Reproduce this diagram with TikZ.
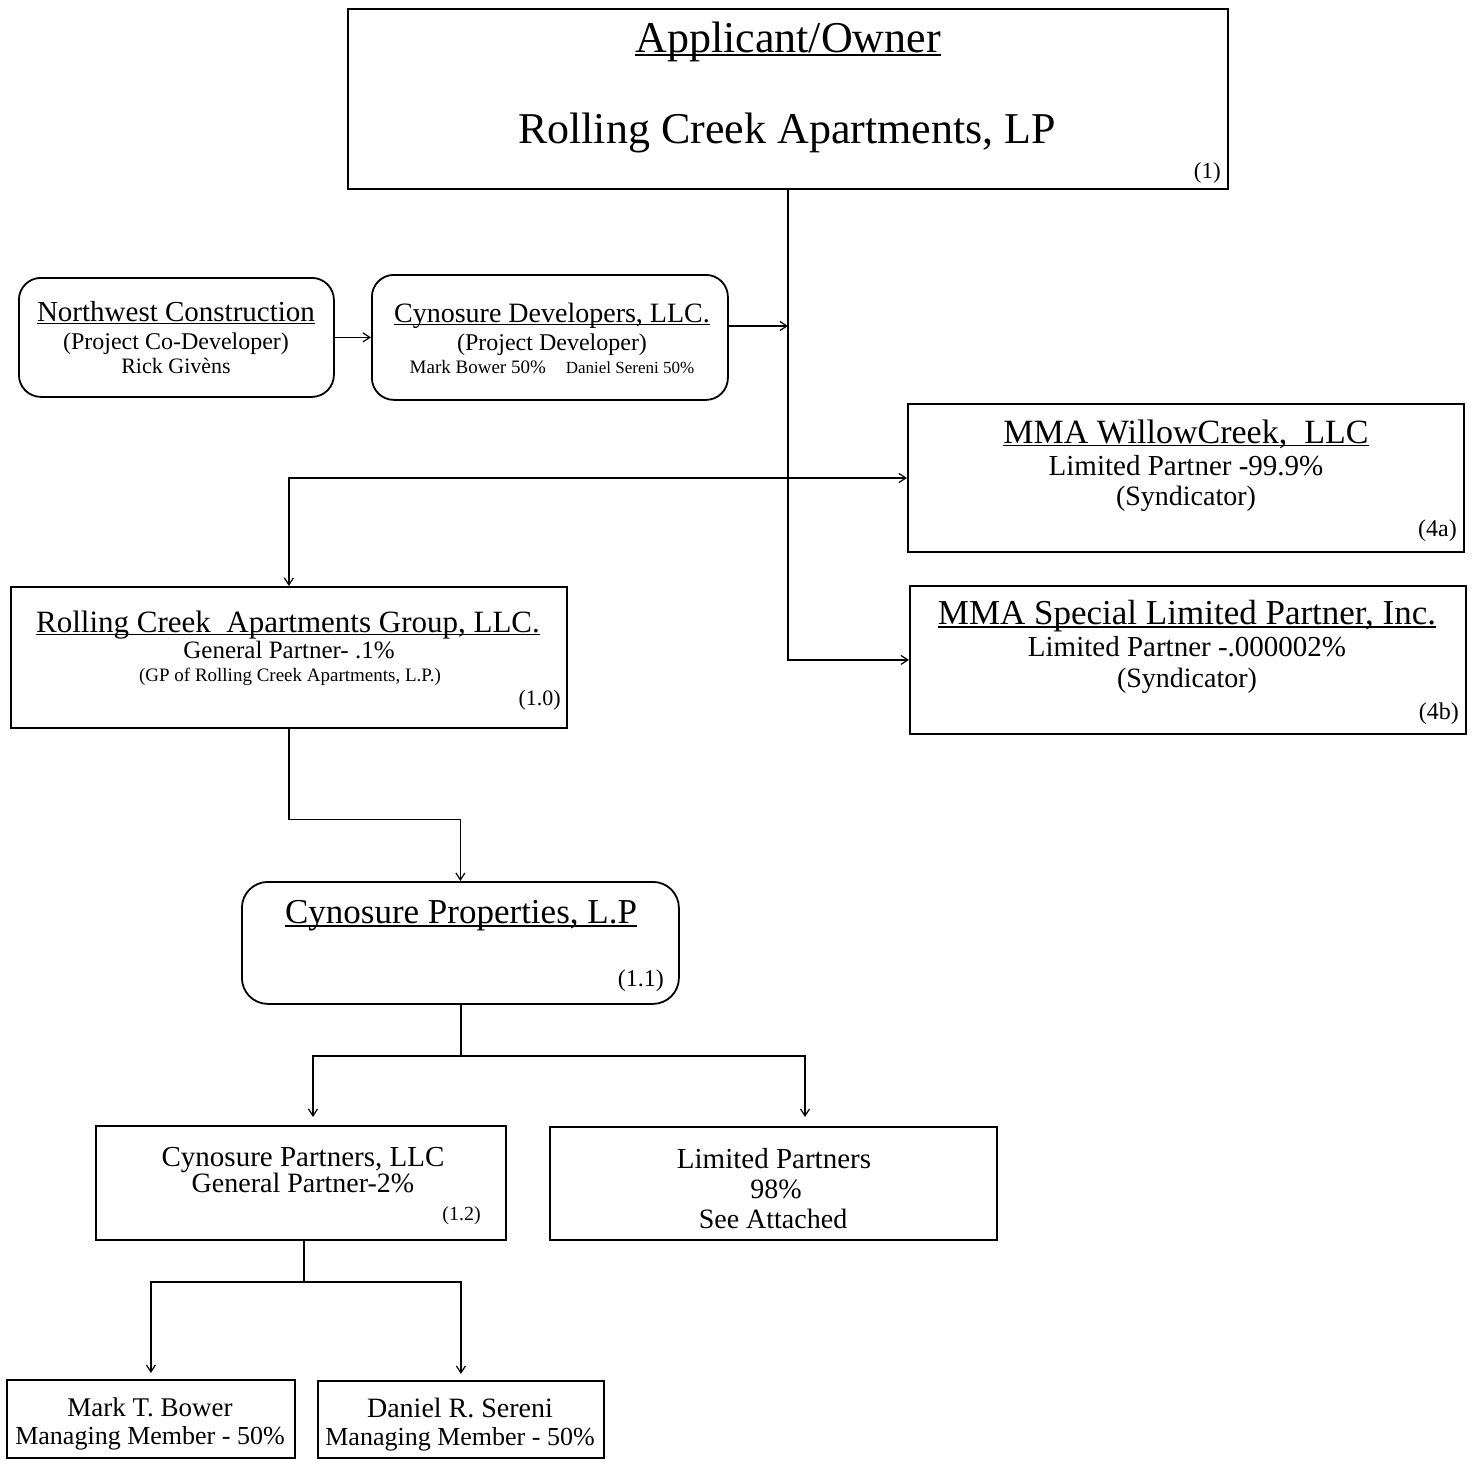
\documentclass[tikz,border=0pt]{standalone}
\usepackage{fontspec}
\setmainfont{Liberation Serif}
\usetikzlibrary{arrows.meta}
\newcommand{\fs}[1]{\fontsize{#1}{#1}\selectfont}
\newcommand{\ul}[1]{\leavevmode\setbox0\hbox{#1}\rlap{\rule[-0.1em]{\wd0}{0.045em}}\box0}
\begin{document}
\begin{tikzpicture}[x=1pt,y=-1pt,
  box/.style={draw, line width=1.8pt, anchor=north west, inner sep=0pt},
  rbox/.style={box, rounded corners=22pt},
  txt/.style={anchor=base, inner sep=0pt},
  tag/.style={anchor=base east, inner sep=0pt},
  conn/.style={line width=1.3pt},
  arr/.style={conn, -{Straight Barb[length=7pt,width=9pt,line width=1.2pt]}}
]
\useasboundingbox (0,0) rectangle (1472,1459);

% boxes
\node[box, minimum width=880pt, minimum height=180pt] (top) at (347,8) {};
\node[rbox, minimum width=315pt, minimum height=119pt] (nw) at (18,277) {};
\node[rbox, minimum width=356pt, minimum height=125pt] (cdev) at (371,274) {};
\node[box, minimum width=556pt, minimum height=148pt] (mwc) at (907,403) {};
\node[box, minimum width=556pt, minimum height=148pt] (msp) at (909,585) {};
\node[box, minimum width=556pt, minimum height=141pt] (rcg) at (10,586) {};
\node[rbox, rounded corners=26pt, minimum width=437pt, minimum height=122pt] (cprop) at (241,881) {};
\node[box, minimum width=410pt, minimum height=114pt] (cpart) at (95,1125) {};
\node[box, minimum width=447pt, minimum height=113pt] (lp) at (549,1126) {};
\node[box, minimum width=288pt, minimum height=78pt] (mark) at (6,1379) {};
\node[box, minimum width=286pt, minimum height=77pt] (dan) at (317,1380) {};

% texts
\node[txt] (t1) at (788,52) {\fs{44}\ul{Applicant/Owner}};
\node[txt] (t2) at (787,143) {\fs{44}Rolling Creek Apartments, LP};
\node[tag] (t3) at (1221,178) {\fs{23}(1)};

\node[txt] (nw1) at (176,321) {\fs{29}\ul{Northwest Construction}};
\node[txt] (nw2) at (176,349) {\fs{24}(Project Co-Developer)};
\node[txt] (nw3) at (176,373) {\fs{22}Rick Givèns};

\node[txt] (cd1) at (552,322) {\fs{28}\ul{Cynosure Developers, LLC.}};
\node[txt] (cd2) at (552,350) {\fs{24}(Project Developer)};
\node[txt] (cd3) at (552,373) {\fs{19}Mark Bower 50\%\hspace{20pt}{\fs{17}Daniel Sereni 50\%}};

\node[txt] (m1) at (1186,443) {\fs{34}\ul{MMA WillowCreek,\ \ LLC}};
\node[txt] (m2) at (1186,475) {\fs{29}Limited Partner -99.9\%};
\node[txt] (m3) at (1186,505) {\fs{28}(Syndicator)};
\node[tag] (m4) at (1457,536) {\fs{24}(4a)};

\node[txt] (s1) at (1187,624) {\fs{35}\ul{MMA Special Limited Partner, Inc.}};
\node[txt] (s2) at (1187,656) {\fs{29}Limited Partner -.000002\%};
\node[txt] (s3) at (1187,687) {\fs{28}(Syndicator)};
\node[tag] (s4) at (1459,719) {\fs{24}(4b)};

\node[txt] (g1) at (288,632) {\fs{31}\ul{Rolling Creek\ \ Apartments Group, LLC.}};
\node[txt] (g2) at (289,658) {\fs{25}General Partner- .1\%};
\node[txt] (g3) at (290,681) {\fs{19}(GP of Rolling Creek Apartments, L.P.)};
\node[tag] (g4) at (561,705) {\fs{22}(1.0)};

\node[txt] (p1) at (461,923) {\fs{35}\ul{Cynosure Properties, L.P}};
\node[tag] (p2) at (664,986) {\fs{24}(1.1)};

\node[txt] (c1) at (303,1166) {\fs{29}Cynosure Partners, LLC};
\node[txt] (c2) at (303,1192) {\fs{28}General Partner-2\%};
\node[tag] (c3) at (481,1220) {\fs{20}(1.2)};

\node[txt] (l1) at (774,1168) {\fs{29}Limited Partners};
\node[txt] (l2) at (776,1198) {\fs{28}98\%};
\node[txt] (l3) at (773,1228) {\fs{28}See Attached};

\node[txt] (k1) at (150,1416) {\fs{27}Mark T. Bower};
\node[txt] (k2) at (150,1444) {\fs{26}Managing Member - 50\%};
\node[txt] (d1) at (460,1417) {\fs{28}Daniel R. Sereni};
\node[txt] (d2) at (460,1445) {\fs{26}Managing Member - 50\%};

% junctions
\coordinate (jdev) at (788,326);
\coordinate (jmid) at (788,478);
\coordinate (jcp) at (461,1056);
\coordinate (acp) at (313,1117);
\coordinate (alp) at (805,1117);
\coordinate (jpa) at (304,1282);

% connectors
\draw[arr] (top.south) |- (msp.west);
\draw[arr] (nw.east) -- (cdev.west |- nw.east);
\draw[arr] (cdev.east |- jdev) -- (jdev);
\draw[arr] (jmid) -- (mwc.west |- jmid);
\draw[arr] (jmid) -| (rcg.north);
\draw[arr] (rcg.south) -- ++(0,91) -| (cprop.north);
\draw[conn] (cprop.south -| jcp) -- (jcp);
\draw[arr] (jcp) -| (acp);
\draw[arr] (jcp) -| (alp);
\draw[conn] (cpart.south -| jpa) -- (jpa);
\draw[arr, shorten >=6pt] (jpa) -| (mark.north);
\draw[arr, shorten >=6pt] (jpa) -| (dan.north);
\end{tikzpicture}
\end{document}
